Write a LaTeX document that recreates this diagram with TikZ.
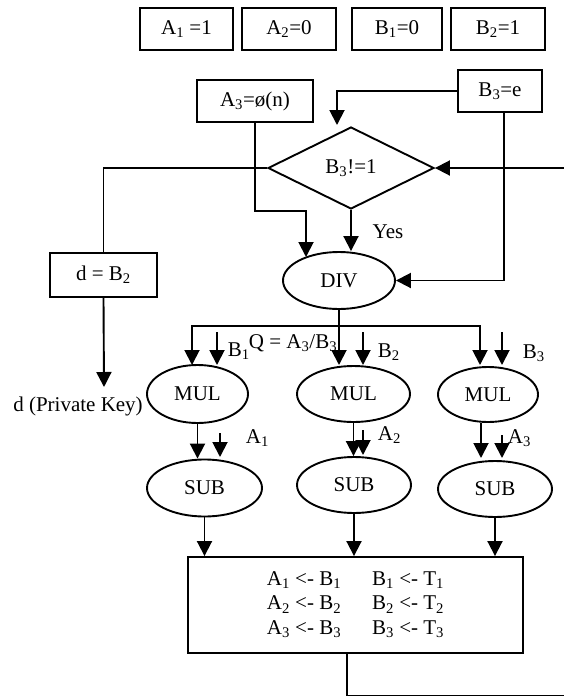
\documentclass[tikz,border=0pt]{standalone}
\usepackage{fontspec}
\setmainfont{Liberation Serif}
\usetikzlibrary{shapes.geometric,arrows.meta}
\begin{document}
\begin{tikzpicture}[x=1pt,y=-1pt,
  font=\fontsize{21}{24.5}\selectfont,
  line width=1.9pt,
  box/.style={draw, rectangle, inner sep=0pt},
  oval/.style={draw, ellipse, inner sep=0pt},
  dia/.style={draw, diamond, inner sep=0pt, minimum width=166pt, minimum height=82pt},
  arr/.style={-{Triangle[width=15pt 0 0,length=15pt 0 0]}},
  lbl/.style={inner sep=0pt, anchor=west}]
\clip (0,0) rectangle (564,697);
% top value boxes
\node[box, minimum width=93pt, minimum height=42pt] (a1) at (186.5,29) {A\textsubscript{1} =1};
\node[box, minimum width=94pt, minimum height=42pt] (a2) at (289,29) {A\textsubscript{2}=0};
\node[box, minimum width=90pt, minimum height=42pt] (b1) at (397,29) {B\textsubscript{1}=0};
\node[box, minimum width=94pt, minimum height=42pt] (b2) at (498,29) {B\textsubscript{2}=1};
% A3, B3
\node[box, minimum width=116pt, minimum height=42pt] (a3) at (255,101) {A\textsubscript{3}=ø(n)};
\node[box, minimum width=84pt, minimum height=42pt] (b3e) at (500,91) {B\textsubscript{3}=e};
% decision
\node[dia] (dia) at (351,168) {B\textsubscript{3}!=1};
\node[oval, minimum width=112pt, minimum height=57pt] (div) at (339,280.5) {DIV};
\node[inner sep=0pt] (yes) at (388,232) {Yes};
\node[box, minimum width=107pt, minimum height=44pt] (dbox) at (103.5,275) {d = B\textsubscript{2}};
\node[inner sep=0pt] (pk) at (78,406) {d (Private Key)};
% MUL / SUB
\node[oval, minimum width=101pt, minimum height=58pt] (mul1) at (197.5,394) {MUL};
\node[oval, minimum width=113pt, minimum height=56pt] (mul2) at (353.5,394) {MUL};
\node[oval, minimum width=100pt, minimum height=55pt] (mul3) at (488,394.5) {MUL};
\node[oval, minimum width=115pt, minimum height=57pt] (sub1) at (204.5,488) {SUB};
\node[oval, minimum width=114pt, minimum height=56pt] (sub2) at (354,485) {SUB};
\node[oval, minimum width=114pt, minimum height=56pt] (sub3) at (495,489) {SUB};
% final box
\node[box, minimum width=335pt, minimum height=96pt] (fbox) at (355.5,605)
  {\begin{tabular}{@{}l@{\hspace{31pt}}l@{}}
   A\textsubscript{1} <- B\textsubscript{1} & B\textsubscript{1} <- T\textsubscript{1}\\
   A\textsubscript{2} <- B\textsubscript{2} & B\textsubscript{2} <- T\textsubscript{2}\\
   A\textsubscript{3} <- B\textsubscript{3} & B\textsubscript{3} <- T\textsubscript{3}
   \end{tabular}};
% labels
\node[inner sep=0pt] (qlbl) at (293,343) {Q = A\textsubscript{3}/B\textsubscript{3}};
\node[lbl] (lb1) at (227,351) {B\textsubscript{1}};
\node[lbl] (lb2) at (377,352) {B\textsubscript{2}};
\node[lbl] (lb3) at (522,353) {B\textsubscript{3}};
\node[lbl] (la1) at (245,438) {A\textsubscript{1}};
\node[lbl] (la2) at (377,435) {A\textsubscript{2}};
\node[lbl] (la3) at (507,438) {A\textsubscript{3}};
% coordinates
\coordinate (diaIn) at (337,125);
\coordinate (a3bend) at (306,211);
\coordinate (divA) at (306,257);
\coordinate (pkIn) at (104,387);
\coordinate (busL) at (192,326);
\coordinate (busR) at (480,326);
\coordinate (m1a) at (192,365);
\coordinate (m3a) at (480,365);
\coordinate (s1t) at (217,332); \coordinate (s1b) at (217,365);
\coordinate (s2t) at (363,332); \coordinate (s2b) at (363,365);
\coordinate (s3t) at (502,332); \coordinate (s3b) at (502,365);
\coordinate (t1t) at (220,433); \coordinate (t1b) at (220,457);
\coordinate (t2t) at (363,430); \coordinate (t2b) at (363,455);
\coordinate (t3t) at (502,435); \coordinate (t3b) at (502,458);
\coordinate (lpA) at (347,695.5);
\coordinate (lpB) at (572,695.5);
\coordinate (lpC) at (572,168);
% connectors
\draw[arr] (b3e.west) -| (diaIn);
\draw[arr] (a3.south) |- (a3bend) -- (divA);
\draw[arr] (dia.south) -- (dia.south |- div.north);
\draw[arr] ([xshift=4pt]b3e.south) |- (div.east);
\draw (dia.west) -| (dbox.north);
\draw[arr] (dbox.south) -- (pkIn);
\draw[arr] (lpA |- fbox.south) -- (lpA) -- (lpB) -- (lpC) -- (dia.east);
\draw[arr] (div.south) -- (div.south |- m1a);
\draw[arr] (div.south |- busL) -| (m1a);
\draw[arr] (div.south |- busR) -| (m3a);
\draw[arr] (s1t) -- (s1b);
\draw[arr] (s2t) -- (s2b);
\draw[arr] (s3t) -- (s3b);
\draw[arr] (mul1.south) -- (mul1.south |- sub1.north);
\draw[arr] (mul2.south) -- (mul2.south |- sub2.north);
\draw[arr] ([xshift=-7pt]mul3.south) -- ([xshift=-7pt]mul3.south |- t3b);
\draw[arr] (t1t) -- (t1b);
\draw[arr] (t2t) -- (t2b);
\draw[arr] (t3t) -- (t3b);
\draw[arr] (sub1.south) -- (sub1.south |- fbox.north);
\draw[arr] (sub2.south) -- (sub2.south |- fbox.north);
\draw[arr] (sub3.south) -- (sub3.south |- fbox.north);
\end{tikzpicture}
\end{document}
